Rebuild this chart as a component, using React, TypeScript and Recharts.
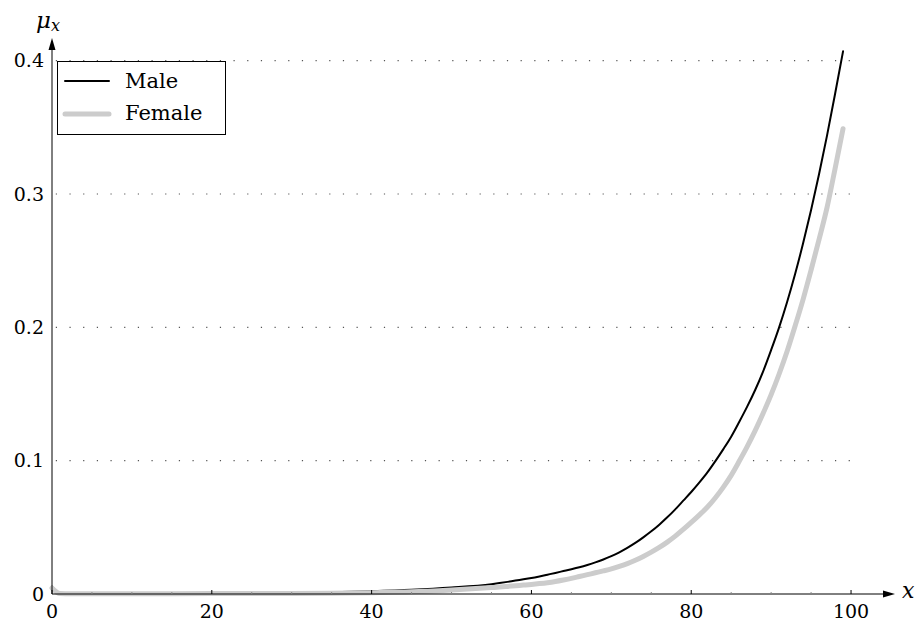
import { LineChart, Line, XAxis, YAxis, ReferenceLine, Legend } from "recharts";

const AGES = [
  0, 1, 2, 3, 5, 10, 15, 20, 25, 30, 35, 40, 45, 50,
  55, 56, 57, 58, 59, 60, 61, 62, 63, 64, 65, 66, 67, 68, 69,
  70, 71, 72, 73, 74, 75, 76, 77, 78, 79, 80, 81, 82, 83, 84,
  85, 86, 87, 88, 89, 90, 91, 92, 93, 94, 95, 96, 97, 98, 99,
];

const MALE = [
  0.0055, 0.0004, 0.0003, 0.0002, 0.0001, 0.0001, 0.0003, 0.0008, 0.0009, 0.001, 0.0013, 0.0021, 0.0032, 0.0049,
  0.0074, 0.0082, 0.0091, 0.0101, 0.011, 0.012, 0.0132, 0.0145, 0.0158, 0.0172, 0.0186, 0.0201, 0.0218, 0.0237, 0.0259,
  0.0284, 0.0313, 0.0346, 0.0383, 0.0425, 0.047, 0.052, 0.0575, 0.0635, 0.07, 0.0765, 0.0835, 0.091, 0.0995, 0.1085,
  0.118, 0.129, 0.1405, 0.153, 0.167, 0.183, 0.2, 0.219, 0.24, 0.263, 0.288, 0.315, 0.344, 0.375, 0.407,
];

const FEMALE = [
  0.0045, 0.0003, 0.0002, 0.0001, 0.0001, 0.0001, 0.0002, 0.0003, 0.0003, 0.0004, 0.0006, 0.001, 0.0016, 0.003,
  0.0048, 0.0052, 0.0057, 0.0062, 0.0067, 0.0072, 0.0078, 0.0085, 0.0094, 0.0105, 0.0117, 0.0131, 0.0145, 0.0159, 0.0173,
  0.0188, 0.0207, 0.0228, 0.0253, 0.0282, 0.0314, 0.0349, 0.0389, 0.0434, 0.0484, 0.0537, 0.0592, 0.065, 0.072, 0.08,
  0.089, 0.0995, 0.1105, 0.1225, 0.1355, 0.1495, 0.165, 0.182, 0.201, 0.221, 0.243, 0.266, 0.29, 0.319, 0.349,
];

const X_TICKS = [0, 5, 10, 15, 20, 25, 30, 35, 40, 45, 50, 55, 60, 65, 70, 75, 80, 85, 90, 95, 100];
const Y_TICKS = [0, 0.1, 0.2, 0.3, 0.4];
const GRID_Y = [0.1, 0.2, 0.3, 0.4];

const SERIES = [
  { key: "male", name: "Male", color: "#000000", width: 2 },
  { key: "female", name: "Female", color: "#cccccc", width: 5 },
];

const FONT = "'DejaVu Serif', serif";

const data = AGES.map((age, i) => ({ age, male: MALE[i], female: FEMALE[i] }));

function XTick(props: any) {
  const { x, y, payload } = props;
  const v = payload.value;
  const major = v % 20 === 0;
  return (
    <g>
      <line x1={x} x2={x} y1={y} y2={y - (major ? 4 : 2)}
        stroke={major ? "#000" : "#888"} strokeWidth={1} />
      {major && (
        <text x={x} y={y + 24} textAnchor="middle"
          fontFamily={FONT} fontSize={19} fill="#000">{v}</text>
      )}
    </g>
  );
}

function LegendBox() {
  return (
    <div style={{
      position: "relative", width: 169, height: 74,
      border: "1px solid #000", boxSizing: "border-box",
      background: "#fff", fontFamily: FONT, fontSize: 21, color: "#000",
    }}>
      {SERIES.map((s, i) => (
        <div key={s.key}>
          <svg width={50} height={10} style={{
            position: "absolute", left: 4, top: 14 + i * 33,
          }}>
            <line x1={3} x2={47} y1={5} y2={5} stroke={s.color}
              strokeWidth={s.width} strokeLinecap="round" />
          </svg>
          <div style={{
            position: "absolute", left: 67, top: 8 + i * 32,
            lineHeight: "22px", whiteSpace: "nowrap",
          }}>{s.name}</div>
        </div>
      ))}
    </div>
  );
}

export default function App() {
  return (
    <div style={{ position: "absolute", left: 0, top: 0, background: "#fff" }}>
      <LineChart width={919} height={622} data={data}
        margin={{ top: 50, right: 36, bottom: 0, left: 0 }}>
        <defs>
          <marker id="arrowHead" markerWidth={13} markerHeight={8}
            refX={0} refY={4} orient="auto-start-reverse" markerUnits="userSpaceOnUse">
            <path d="M0,0.5 L12,4 L0,7.5 Z" fill="#000" />
          </marker>
        </defs>

        {GRID_Y.map((g) => (
          <ReferenceLine key={g}
            segment={[{ x: 0, y: g }, { x: 100, y: g }]}
            stroke="#555" strokeWidth={1.2}
            strokeDasharray="1.2 12.47" strokeDashoffset={-3.8} />
        ))}

        <XAxis dataKey="age" type="number" domain={[0, 104]}
          ticks={X_TICKS} interval={0} height={28}
          tickSize={0} tickMargin={0} tickLine={false}
          axisLine={{ stroke: "#000", strokeWidth: 1, markerEnd: "url(#arrowHead)" }}
          tick={<XTick />} />
        <YAxis type="number" domain={[0, 0.408]} ticks={Y_TICKS} width={52}
          interval={0} tickLine={false}
          tickFormatter={(v: number) => (v === 0 ? "0" : v.toFixed(1))}
          tick={{ fontFamily: FONT, fontSize: 19, fill: "#000" }}
          axisLine={{ stroke: "#000", strokeWidth: 1, markerStart: "url(#arrowHead)" }} />

        <Legend layout="vertical" verticalAlign="middle" align="center"
          wrapperStyle={{ left: 57, top: 61, width: "auto" }}
          content={() => <LegendBox />} />

        {SERIES.map((s) => (
          <Line key={s.key} type="monotone" dataKey={s.key} name={s.name}
            stroke={s.color} strokeWidth={s.width} strokeLinecap="round"
            dot={false} activeDot={false} isAnimationActive={false} />
        ))}

        <text x={36} y={28} fontFamily={FONT} fontStyle="italic" fontSize={23} fill="#000">
          μ<tspan fontSize={16} dy={3}>x</tspan>
        </text>
        <text x={902} y={598} fontFamily={FONT} fontStyle="italic" fontSize={22} fill="#000">x</text>
      </LineChart>
    </div>
  );
}
